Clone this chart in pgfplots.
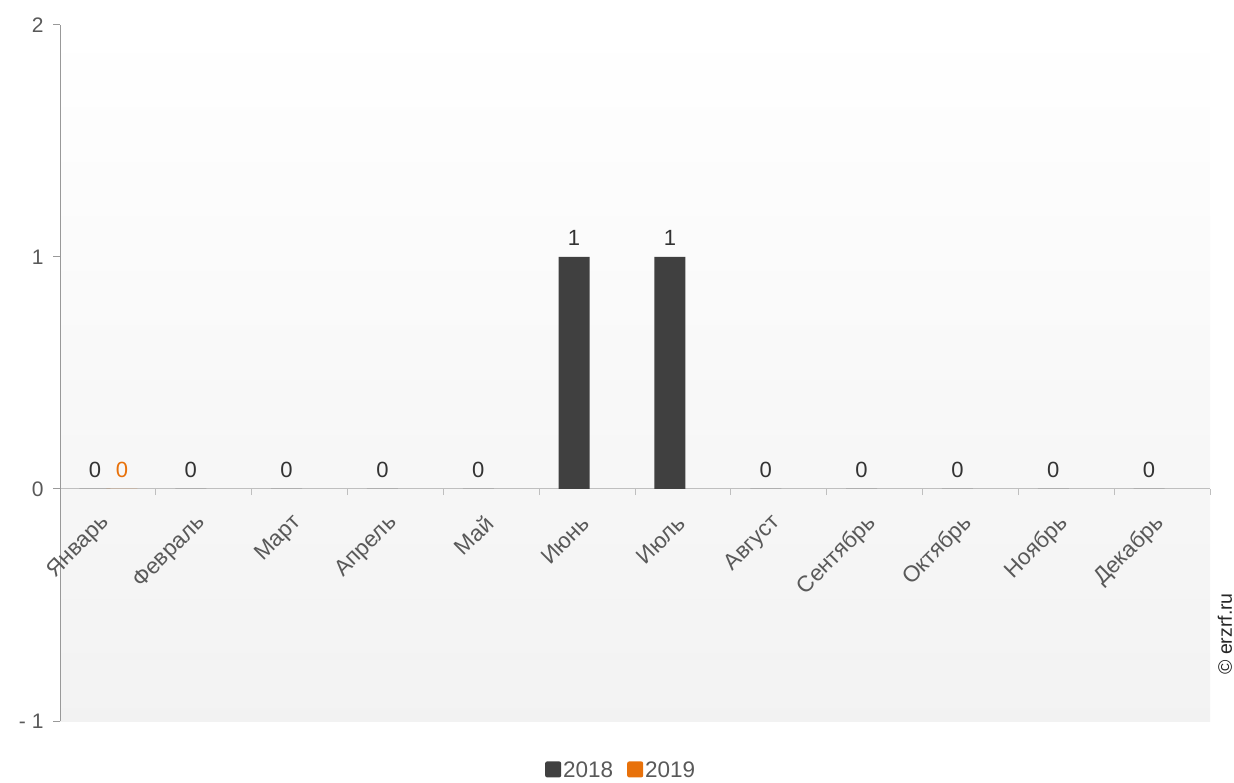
\documentclass[border=0pt]{standalone}
\usepackage{pgfplots}
\pgfplotsset{compat=1.18}
\usepackage{fontspec}
\setmainfont{Liberation Sans}
\definecolor{bar18}{HTML}{404040}
\definecolor{bar19}{HTML}{E8710A}
\definecolor{txt}{HTML}{595959}
\definecolor{axisx}{HTML}{BFBFBF}
\definecolor{axisy}{HTML}{999999}
\begin{document}
\begin{tikzpicture}[x=1pt,y=1pt]
\useasboundingbox (0,0) rectangle (1234,782);
\begin{axis}[
  at={(60pt,61pt)}, anchor=south west,
  scale only axis, width=1150pt, height=696pt,
  xmin=-0.5, xmax=11.5, ymin=-1, ymax=2,
  axis x line=middle, axis y line=left,
  hide obscured x ticks=false,
  x axis line style={-, draw=axisx, line width=1pt},
  y axis line style={-, draw=axisy, line width=1pt},
  axis background/.style={shade, top color=white, bottom color=gray!10},
  xtick={0,...,11},
  xticklabels={Январь,Февраль,Март,Апрель,Май,Июнь,Июль,Август,Сентябрь,Октябрь,Ноябрь,Декабрь},
  major x tick style={draw=none},
  minor xtick={-0.5,0.5,...,11.5},
  minor tick length=6pt,
  minor x tick style={draw=axisx, line width=1pt},
  ytick={-1,0,1,2}, yticklabels={- 1,0,1,2},
  major tick length=7pt,
  y tick style={draw=axisy, line width=1pt},
  tick align=outside,
  xticklabel style={rotate=45, anchor=east, xshift=-14.6pt, yshift=-15.4pt, font=\fontsize{22.5}{26}\selectfont, text=txt},
  yticklabel style={xshift=-6pt, font=\fontsize{21}{25}\selectfont, text=txt},
  /pgf/number format/assume math mode=true,
  legend image code/.code={\fill[#1, rounded corners=2pt] (-3pt,-7pt) rectangle (13pt,9pt);},
  legend style={at={(0.488,-0.071)}, anchor=center, draw=none, fill=none,
    legend columns=2, font=\fontsize{22.5}{26}\selectfont, text=txt,
    /tikz/every even column/.append style={column sep=12pt},
    inner sep=0pt, cells={anchor=west}},
]
\addplot[ybar, bar width=31pt, bar shift=-13pt, fill=bar18, draw=none,
  nodes near coords, nodes near coords style={font=\fontsize{22}{26}\selectfont, text=black!80, xshift=-13pt, yshift=8pt}]
  coordinates {(0,0) (1,0) (2,0) (3,0) (4,0) (5,1) (6,1) (7,0) (8,0) (9,0) (10,0) (11,0)};
\addlegendentry{2018}
\addplot[ybar, bar width=31pt, bar shift=14pt, fill=bar19, draw=none,
  nodes near coords, nodes near coords style={font=\fontsize{22}{26}\selectfont, text=bar19, xshift=14pt, yshift=8pt}]
  coordinates {(0,0)};
\addlegendentry{2019}
\end{axis}
\node[rotate=90, font=\fontsize{19.5}{23}\selectfont, text=black!85] at (1225,148) {© erzrf.ru};
\end{tikzpicture}
\end{document}
